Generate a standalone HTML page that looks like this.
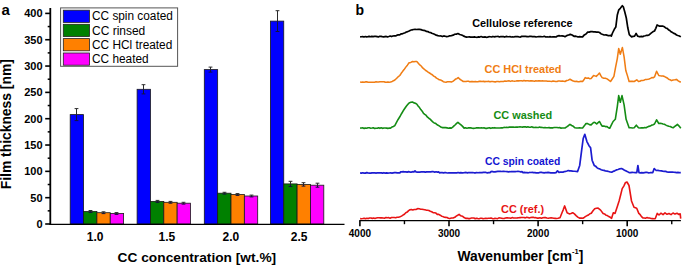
<!DOCTYPE html>
<html><head><meta charset="utf-8"><style>
html,body{margin:0;padding:0;background:#fff;}
body{width:685px;height:266px;overflow:hidden;}
svg{display:block;}
text{font-family:"Liberation Sans",sans-serif;}
.b{font-weight:bold;}
.r{font-weight:normal;}
</style></head><body>
<svg width="685" height="266" viewBox="0 0 685 266">
<rect width="685" height="266" fill="#fff"/>
<rect x="70.20" y="114.60" width="13.35" height="109.40" fill="#0000ff" stroke="#1a1a1a" stroke-width="0.8"/>
<rect x="83.55" y="211.50" width="13.35" height="12.50" fill="#008000" stroke="#1a1a1a" stroke-width="0.8"/>
<rect x="96.90" y="212.70" width="13.35" height="11.30" fill="#ff8000" stroke="#1a1a1a" stroke-width="0.8"/>
<rect x="110.25" y="213.50" width="13.35" height="10.50" fill="#ff00ff" stroke="#1a1a1a" stroke-width="0.8"/>
<rect x="137.10" y="89.30" width="13.35" height="134.70" fill="#0000ff" stroke="#1a1a1a" stroke-width="0.8"/>
<rect x="150.45" y="201.40" width="13.35" height="22.60" fill="#008000" stroke="#1a1a1a" stroke-width="0.8"/>
<rect x="163.80" y="202.30" width="13.35" height="21.70" fill="#ff8000" stroke="#1a1a1a" stroke-width="0.8"/>
<rect x="177.15" y="203.20" width="13.35" height="20.80" fill="#ff00ff" stroke="#1a1a1a" stroke-width="0.8"/>
<rect x="204.30" y="69.60" width="13.35" height="154.40" fill="#0000ff" stroke="#1a1a1a" stroke-width="0.8"/>
<rect x="217.65" y="193.20" width="13.35" height="30.80" fill="#008000" stroke="#1a1a1a" stroke-width="0.8"/>
<rect x="231.00" y="194.50" width="13.35" height="29.50" fill="#ff8000" stroke="#1a1a1a" stroke-width="0.8"/>
<rect x="244.35" y="196.00" width="13.35" height="28.00" fill="#ff00ff" stroke="#1a1a1a" stroke-width="0.8"/>
<rect x="270.40" y="21.10" width="13.35" height="202.90" fill="#0000ff" stroke="#1a1a1a" stroke-width="0.8"/>
<rect x="283.75" y="183.90" width="13.35" height="40.10" fill="#008000" stroke="#1a1a1a" stroke-width="0.8"/>
<rect x="297.10" y="184.40" width="13.35" height="39.60" fill="#ff8000" stroke="#1a1a1a" stroke-width="0.8"/>
<rect x="310.45" y="185.20" width="13.35" height="38.80" fill="#ff00ff" stroke="#1a1a1a" stroke-width="0.8"/>
<path d="M76.50 108.60V114.60M74.60 108.60H78.40" stroke="#2a2a2a" stroke-width="1" fill="none"/>
<path d="M76.50 114.60V120.60M74.60 120.60H78.40" stroke="#14143c" stroke-width="1" fill="none"/>
<path d="M90.50 210.50V211.50M88.60 210.50H92.40" stroke="#2a2a2a" stroke-width="1" fill="none"/>
<path d="M90.50 211.50V212.50M88.60 212.50H92.40" stroke="#14143c" stroke-width="1" fill="none"/>
<path d="M103.50 211.80V212.70M101.60 211.80H105.40" stroke="#2a2a2a" stroke-width="1" fill="none"/>
<path d="M103.50 212.70V213.60M101.60 213.60H105.40" stroke="#14143c" stroke-width="1" fill="none"/>
<path d="M116.50 212.60V213.50M114.60 212.60H118.40" stroke="#2a2a2a" stroke-width="1" fill="none"/>
<path d="M116.50 213.50V214.40M114.60 214.40H118.40" stroke="#14143c" stroke-width="1" fill="none"/>
<path d="M143.50 84.70V89.30M141.60 84.70H145.40" stroke="#2a2a2a" stroke-width="1" fill="none"/>
<path d="M143.50 89.30V93.90M141.60 93.90H145.40" stroke="#14143c" stroke-width="1" fill="none"/>
<path d="M157.50 200.40V201.40M155.60 200.40H159.40" stroke="#2a2a2a" stroke-width="1" fill="none"/>
<path d="M157.50 201.40V202.40M155.60 202.40H159.40" stroke="#14143c" stroke-width="1" fill="none"/>
<path d="M170.50 201.40V202.30M168.60 201.40H172.40" stroke="#2a2a2a" stroke-width="1" fill="none"/>
<path d="M170.50 202.30V203.20M168.60 203.20H172.40" stroke="#14143c" stroke-width="1" fill="none"/>
<path d="M183.50 202.30V203.20M181.60 202.30H185.40" stroke="#2a2a2a" stroke-width="1" fill="none"/>
<path d="M183.50 203.20V204.10M181.60 204.10H185.40" stroke="#14143c" stroke-width="1" fill="none"/>
<path d="M210.50 67.10V69.60M208.60 67.10H212.40" stroke="#2a2a2a" stroke-width="1" fill="none"/>
<path d="M210.50 69.60V72.10M208.60 72.10H212.40" stroke="#14143c" stroke-width="1" fill="none"/>
<path d="M224.50 192.30V193.20M222.60 192.30H226.40" stroke="#2a2a2a" stroke-width="1" fill="none"/>
<path d="M224.50 193.20V194.10M222.60 194.10H226.40" stroke="#14143c" stroke-width="1" fill="none"/>
<path d="M237.50 193.60V194.50M235.60 193.60H239.40" stroke="#2a2a2a" stroke-width="1" fill="none"/>
<path d="M237.50 194.50V195.40M235.60 195.40H239.40" stroke="#14143c" stroke-width="1" fill="none"/>
<path d="M251.50 195.10V196.00M249.60 195.10H253.40" stroke="#2a2a2a" stroke-width="1" fill="none"/>
<path d="M251.50 196.00V196.90M249.60 196.90H253.40" stroke="#14143c" stroke-width="1" fill="none"/>
<path d="M277.50 10.70V21.10M275.60 10.70H279.40" stroke="#2a2a2a" stroke-width="1" fill="none"/>
<path d="M277.50 21.10V31.50M275.60 31.50H279.40" stroke="#14143c" stroke-width="1" fill="none"/>
<path d="M290.50 181.30V183.90M288.60 181.30H292.40" stroke="#2a2a2a" stroke-width="1" fill="none"/>
<path d="M290.50 183.90V186.50M288.60 186.50H292.40" stroke="#14143c" stroke-width="1" fill="none"/>
<path d="M303.50 182.70V184.40M301.60 182.70H305.40" stroke="#2a2a2a" stroke-width="1" fill="none"/>
<path d="M303.50 184.40V186.10M301.60 186.10H305.40" stroke="#14143c" stroke-width="1" fill="none"/>
<path d="M317.50 183.20V185.20M315.60 183.20H319.40" stroke="#2a2a2a" stroke-width="1" fill="none"/>
<path d="M317.50 185.20V187.20M315.60 187.20H319.40" stroke="#14143c" stroke-width="1" fill="none"/>
<path d="M50.3 8V224.9" stroke="#000" stroke-width="1.8" fill="none"/>
<path d="M49.5 224.3H344.5" stroke="#000" stroke-width="1.2" fill="none"/>
<path d="M45.2 224.00H50" stroke="#000" stroke-width="1.6"/>
<text x="42.6" y="227.95" text-anchor="end" class="b" font-size="11">0</text>
<path d="M45.2 197.68H50" stroke="#000" stroke-width="1.6"/>
<text x="42.6" y="201.62" text-anchor="end" class="b" font-size="11">50</text>
<path d="M45.2 171.35H50" stroke="#000" stroke-width="1.6"/>
<text x="42.6" y="175.30" text-anchor="end" class="b" font-size="11">100</text>
<path d="M45.2 145.03H50" stroke="#000" stroke-width="1.6"/>
<text x="42.6" y="148.97" text-anchor="end" class="b" font-size="11">150</text>
<path d="M45.2 118.70H50" stroke="#000" stroke-width="1.6"/>
<text x="42.6" y="122.65" text-anchor="end" class="b" font-size="11">200</text>
<path d="M45.2 92.38H50" stroke="#000" stroke-width="1.6"/>
<text x="42.6" y="96.33" text-anchor="end" class="b" font-size="11">250</text>
<path d="M45.2 66.05H50" stroke="#000" stroke-width="1.6"/>
<text x="42.6" y="70.00" text-anchor="end" class="b" font-size="11">300</text>
<path d="M45.2 39.73H50" stroke="#000" stroke-width="1.6"/>
<text x="42.6" y="43.68" text-anchor="end" class="b" font-size="11">350</text>
<path d="M45.2 13.40H50" stroke="#000" stroke-width="1.6"/>
<text x="42.6" y="17.35" text-anchor="end" class="b" font-size="11">400</text>
<path d="M47.7 210.84H50" stroke="#000" stroke-width="1.5"/>
<path d="M47.7 184.51H50" stroke="#000" stroke-width="1.5"/>
<path d="M47.7 158.19H50" stroke="#000" stroke-width="1.5"/>
<path d="M47.7 131.86H50" stroke="#000" stroke-width="1.5"/>
<path d="M47.7 105.54H50" stroke="#000" stroke-width="1.5"/>
<path d="M47.7 79.21H50" stroke="#000" stroke-width="1.5"/>
<path d="M47.7 52.89H50" stroke="#000" stroke-width="1.5"/>
<path d="M47.7 26.56H50" stroke="#000" stroke-width="1.5"/>
<text x="95.1" y="240.6" text-anchor="middle" class="b" font-size="12">1.0</text>
<text x="166.8" y="240.6" text-anchor="middle" class="b" font-size="12">1.5</text>
<text x="230.8" y="240.6" text-anchor="middle" class="b" font-size="12">2.0</text>
<text x="299.2" y="240.6" text-anchor="middle" class="b" font-size="12">2.5</text>
<text x="117.6" y="262.2" class="b" font-size="13.6" textLength="158.6" lengthAdjust="spacingAndGlyphs">CC concentration [wt.%]</text>
<text transform="translate(11.0,189.2) rotate(-90)" x="0" y="0" class="b" font-size="14" textLength="130.0" lengthAdjust="spacingAndGlyphs">Film thickness [nm]</text>
<text x="1.6" y="14.8" class="b" font-size="15">a</text>
<rect x="60.6" y="7.9" width="117" height="58.4" fill="#fff" stroke="#555" stroke-width="1"/>
<rect x="63.3" y="10.20" width="26.2" height="12.2" fill="#0000ff" stroke="#222" stroke-width="0.8"/>
<text x="92.0" y="19.80" class="r" font-size="12" textLength="80.9" lengthAdjust="spacingAndGlyphs">CC spin coated</text>
<rect x="63.3" y="24.30" width="26.2" height="12.2" fill="#008000" stroke="#222" stroke-width="0.8"/>
<text x="92.0" y="34.80" class="r" font-size="12" textLength="53.3" lengthAdjust="spacingAndGlyphs">CC rinsed</text>
<rect x="63.3" y="38.60" width="26.2" height="12.2" fill="#ff8000" stroke="#222" stroke-width="0.8"/>
<text x="92.0" y="49.20" class="r" font-size="12" textLength="80.3" lengthAdjust="spacingAndGlyphs">CC HCl treated</text>
<rect x="63.3" y="53.00" width="26.2" height="12.2" fill="#ff00ff" stroke="#222" stroke-width="0.8"/>
<text x="92.0" y="63.40" class="r" font-size="12" textLength="56.6" lengthAdjust="spacingAndGlyphs">CC heated</text>
<path d="M359.3 220.6H680.9" stroke="#000" stroke-width="1.3" fill="none"/>
<path d="M359.90 220.6V226.3" stroke="#000" stroke-width="1.6"/>
<text x="359.90" y="237.3" text-anchor="middle" class="b" font-size="10">4000</text>
<path d="M449.00 220.6V226.3" stroke="#000" stroke-width="1.6"/>
<text x="449.00" y="237.3" text-anchor="middle" class="b" font-size="10">3000</text>
<path d="M538.10 220.6V226.3" stroke="#000" stroke-width="1.6"/>
<text x="538.10" y="237.3" text-anchor="middle" class="b" font-size="10">2000</text>
<path d="M627.20 220.6V226.3" stroke="#000" stroke-width="1.6"/>
<text x="627.20" y="237.3" text-anchor="middle" class="b" font-size="10">1000</text>
<path d="M404.45 220.6V224.2" stroke="#000" stroke-width="1.4"/>
<path d="M493.55 220.6V224.2" stroke="#000" stroke-width="1.4"/>
<path d="M582.65 220.6V224.2" stroke="#000" stroke-width="1.4"/>
<path d="M671.75 220.6V224.2" stroke="#000" stroke-width="1.4"/>
<text x="457.5" y="260.6" class="b" font-size="13.8">Wavenumber [cm<tspan font-size="7.5" dy="-6.8">-1</tspan><tspan dy="6.8">]</tspan></text>
<text x="355.4" y="15.3" class="b" font-size="14">b</text>
<polyline points="360.1,36.90 361.4,36.74 362.7,36.58 364.0,36.97 365.3,36.49 366.6,36.84 367.9,36.68 369.2,36.42 370.5,36.76 371.8,36.37 373.1,36.67 374.5,36.36 375.8,36.35 377.1,36.60 378.4,36.91 379.7,36.33 381.0,36.39 382.3,36.69 383.6,36.93 384.9,36.62 386.2,36.45 387.5,36.90 388.8,36.50 390.2,36.02 391.5,36.55 392.9,35.97 394.2,35.74 395.6,35.90 397.0,35.17 398.3,34.91 399.7,34.89 401.0,33.96 402.4,33.80 403.7,33.31 405.1,32.79 406.4,32.02 407.8,31.60 409.1,31.00 410.6,30.23 412.1,29.80 413.6,29.49 415.1,29.30 416.6,29.52 418.1,29.39 419.5,29.38 421.0,29.60 422.4,30.07 423.7,30.36 425.1,30.64 426.4,31.44 427.8,31.60 429.1,32.30 430.5,32.48 431.8,33.28 433.2,33.78 434.5,34.30 436.2,35.17 437.9,35.62 439.6,36.00 441.0,35.91 442.4,36.55 443.8,35.94 445.2,36.27 446.6,36.62 448.0,36.50 449.7,35.79 451.4,35.62 453.1,35.20 454.7,34.26 456.3,34.20 457.9,33.50 459.8,34.46 461.6,35.00 463.3,35.86 465.0,36.60 466.5,37.10 468.0,37.00 469.3,36.84 470.6,37.14 471.9,37.05 473.2,37.03 474.5,36.93 475.8,37.23 477.2,37.30 478.5,36.92 479.8,37.06 481.1,36.57 482.4,37.08 483.7,37.03 485.0,36.90 486.3,37.28 487.6,37.14 488.9,36.70 490.3,36.77 491.6,36.98 492.9,36.45 494.2,36.80 495.5,36.55 496.8,36.50 498.2,36.44 499.5,37.00 500.8,36.48 502.1,36.56 503.4,36.67 504.7,37.04 506.1,36.40 507.4,36.68 508.7,36.75 510.0,36.70 511.3,37.00 512.6,36.95 513.9,36.98 515.2,36.51 516.5,36.61 517.8,36.56 519.1,36.98 520.4,37.03 521.7,36.38 523.0,36.40 524.3,36.44 525.7,36.43 527.0,36.63 528.3,36.71 529.6,36.44 530.9,36.23 532.2,36.56 533.5,36.52 534.8,36.67 536.1,36.98 537.4,36.76 538.7,36.62 540.0,36.60 541.4,36.71 542.9,36.77 544.3,36.29 545.7,36.98 547.1,36.90 548.6,36.99 550.0,36.70 551.5,37.01 553.0,36.76 554.5,36.84 556.0,37.00 557.5,35.98 559.0,35.60 560.5,35.98 562.0,35.80 563.5,36.08 565.0,36.70 566.3,35.89 567.6,35.28 569.0,34.85 570.3,34.40 572.1,34.99 574.0,36.30 575.3,36.13 576.7,36.49 578.0,37.00 579.5,36.65 581.1,36.82 582.6,36.90 584.3,34.92 586.0,34.00 587.7,32.10 589.2,32.12 590.7,31.67 592.1,31.68 593.6,31.80 595.1,31.85 596.5,32.04 598.0,32.02 599.5,32.50 600.9,33.68 602.3,34.30 604.1,34.99 606.0,34.90 607.5,35.32 609.0,35.80 610.5,35.30 611.3,36.10 612.5,33.00 614.3,29.30 615.8,27.10 617.3,15.00 618.8,9.80 620.3,8.30 622.3,5.70 623.3,6.80 624.8,12.00 626.3,18.00 627.8,27.80 629.3,34.60 631.6,36.80 633.1,36.44 634.6,36.10 636.1,33.40 637.6,36.10 639.8,36.80 641.2,36.42 642.7,36.70 644.0,35.98 645.4,35.77 646.7,35.31 648.1,35.36 649.4,34.70 651.1,33.20 652.8,31.85 654.5,31.00 655.8,28.36 657.1,25.00 659.6,26.20 661.3,26.22 663.0,26.20 664.4,26.78 665.7,27.95 667.1,28.40 668.4,29.66 669.8,30.50 671.1,31.78 672.5,32.59 673.8,33.36 675.2,33.91 676.5,35.00 677.9,35.53 679.4,36.00 680.8,36.90" fill="none" stroke="#000" stroke-width="1.7" stroke-linejoin="round"/>
<polyline points="360.1,82.00 361.4,82.19 362.7,82.02 364.1,82.20 365.4,81.88 366.7,81.81 368.0,82.22 369.4,82.34 370.7,82.25 372.0,82.21 373.3,82.22 374.6,82.17 376.0,81.81 377.3,82.01 378.6,81.90 379.9,81.67 381.2,81.67 382.6,81.85 383.9,81.83 385.2,82.13 386.5,82.32 387.9,81.96 389.2,82.31 390.5,82.00 392.2,81.44 393.9,80.52 395.6,79.30 397.0,77.94 398.4,76.57 399.8,75.50 401.2,73.34 402.7,71.35 404.1,69.60 405.8,67.13 407.4,65.15 409.1,62.80 410.8,62.43 412.5,61.50 413.9,61.74 415.4,61.49 416.8,61.50 418.3,63.21 419.8,64.91 421.2,66.01 422.7,67.90 424.1,69.03 425.4,70.23 426.8,71.16 428.1,72.16 429.5,73.00 430.9,73.97 432.3,74.74 433.7,76.15 435.1,76.82 436.5,78.13 437.9,78.90 439.3,79.85 440.6,80.07 442.0,80.69 443.3,81.69 444.7,82.00 446.0,82.16 447.4,81.77 448.7,81.74 450.1,81.76 451.4,82.00 452.8,81.40 454.1,80.45 455.5,79.11 456.8,78.71 458.2,77.60 459.9,79.24 461.6,80.31 463.3,81.50 464.6,81.40 466.0,81.54 467.3,81.25 468.6,81.18 470.0,81.85 471.3,81.63 472.6,81.55 474.0,81.83 475.3,81.49 476.6,81.80 478.0,81.77 479.3,81.34 480.6,81.38 482.0,81.41 483.3,81.38 484.7,81.62 486.0,81.40 487.3,81.51 488.7,81.31 490.0,81.86 491.3,81.48 492.7,81.56 494.0,81.65 495.3,81.88 496.7,81.54 498.0,81.60 499.4,81.84 500.8,81.50 502.1,81.47 503.5,81.42 504.9,81.01 506.2,81.26 507.6,81.03 509.0,80.85 510.4,81.36 511.8,80.87 513.1,81.03 514.5,81.16 515.9,80.99 517.2,80.78 518.6,80.86 520.0,80.80 521.3,80.84 522.6,81.01 523.9,80.54 525.3,80.86 526.6,80.65 527.9,80.68 529.2,81.03 530.5,80.85 531.8,80.89 533.2,81.03 534.5,81.15 535.8,80.82 537.1,80.95 538.4,80.88 539.7,80.89 541.1,81.02 542.4,80.86 543.7,80.92 545.0,80.90 546.3,80.92 547.7,81.29 549.0,81.16 550.3,81.32 551.7,81.41 553.0,80.97 554.3,81.22 555.7,81.53 557.0,81.50 558.3,81.05 559.7,81.08 561.0,81.34 562.3,81.12 563.7,81.28 565.0,81.50 566.7,80.47 568.3,80.15 570.0,79.30 571.7,80.23 573.3,81.04 575.0,81.50 576.5,81.26 578.0,81.65 579.6,81.61 581.1,81.25 582.6,81.50 583.9,79.82 585.2,77.60 586.7,78.18 588.2,77.90 589.6,78.67 591.1,78.60 593.6,75.50 594.9,75.88 596.2,76.40 597.9,74.69 599.5,73.00 600.8,75.64 602.1,77.60 603.8,78.27 605.4,78.23 607.1,78.90 608.8,80.15 610.5,81.50 612.2,78.96 613.9,76.40 615.6,67.10 617.3,58.60 618.7,48.50 620.3,54.30 622.4,47.60 624.1,56.90 625.8,70.50 627.5,75.89 629.1,81.50 630.8,81.29 632.5,81.37 634.2,81.50 636.8,79.80 638.5,81.50 639.8,81.34 641.2,80.54 642.5,80.59 643.8,80.20 645.1,79.59 646.5,79.50 647.8,79.30 649.1,78.91 650.5,78.35 651.8,77.56 653.2,77.72 654.5,76.90 656.6,71.30 658.8,75.50 660.2,75.84 661.6,76.10 663.0,75.90 664.4,76.41 665.8,77.30 667.2,77.93 668.6,79.23 670.0,79.66 671.4,80.60 673.1,79.94 674.8,79.75 676.5,79.40 677.9,80.65 679.4,81.56 680.8,82.30" fill="none" stroke="#f07d14" stroke-width="1.55" stroke-linejoin="round"/>
<polyline points="360.1,128.10 361.4,127.93 362.7,127.85 364.1,128.39 365.4,128.15 366.7,128.24 368.0,127.81 369.4,127.79 370.7,128.23 372.0,128.05 373.3,127.80 374.6,128.41 376.0,128.19 377.3,128.31 378.6,127.81 379.9,128.35 381.2,127.80 382.6,128.35 383.9,128.07 385.2,127.99 386.5,128.14 387.9,128.40 389.2,127.94 390.5,128.10 391.9,127.01 393.4,126.45 394.8,125.60 396.5,122.48 398.1,119.46 399.8,116.80 401.5,113.73 403.2,110.82 404.9,108.30 406.3,106.29 407.7,104.57 409.1,102.90 410.8,102.31 412.5,102.00 413.9,102.88 415.4,103.25 416.8,104.10 418.1,105.96 419.5,107.59 420.8,109.57 422.2,111.20 423.5,113.40 424.8,114.43 426.2,115.46 427.5,117.16 428.8,118.24 430.1,119.18 431.5,120.58 432.8,121.80 434.2,123.02 435.6,123.36 437.1,124.77 438.5,125.42 439.9,126.38 441.3,127.30 442.7,127.65 444.2,127.45 445.6,127.65 447.1,127.89 448.5,128.21 450.0,127.88 451.4,128.10 452.7,127.17 454.0,125.92 455.3,124.72 456.6,123.39 457.9,122.30 459.4,123.64 461.0,124.89 462.6,126.39 464.1,128.10 465.4,127.80 466.8,128.26 468.1,127.92 469.4,127.85 470.7,127.79 472.1,128.32 473.4,128.33 474.7,128.19 476.1,127.91 477.4,127.88 478.7,127.91 480.1,128.03 481.4,127.81 482.7,128.01 484.0,127.88 485.4,128.36 486.7,128.37 488.0,128.07 489.4,127.85 490.7,128.35 492.0,127.89 493.4,127.92 494.7,127.67 496.0,127.93 497.3,127.99 498.7,128.01 500.0,128.00 501.3,127.71 502.7,127.84 504.0,127.41 505.3,127.51 506.7,127.31 508.0,127.45 509.3,127.12 510.7,127.03 512.0,127.14 513.3,127.01 514.7,127.18 516.0,127.06 517.3,127.14 518.7,126.99 520.0,126.80 521.3,126.99 522.6,127.14 523.9,126.83 525.3,126.83 526.6,127.32 527.9,126.78 529.2,127.21 530.5,127.19 531.8,126.81 533.2,127.40 534.5,127.48 535.8,127.33 537.1,127.44 538.4,127.53 539.7,127.10 541.1,127.41 542.4,127.43 543.7,127.70 545.0,127.50 546.3,127.75 547.7,127.80 549.0,127.66 550.3,127.91 551.7,127.79 553.0,127.84 554.3,127.54 555.7,127.44 557.0,127.54 558.3,127.74 559.7,127.59 561.0,128.14 562.3,127.97 563.7,128.06 565.0,128.00 566.7,126.89 568.3,125.73 570.0,124.40 571.7,125.53 573.3,126.32 575.0,127.80 576.5,128.05 578.0,128.05 579.6,127.92 581.1,127.98 582.6,128.00 584.3,125.86 586.0,123.50 587.7,123.66 589.4,124.60 591.1,124.90 592.5,123.43 594.0,122.30 595.4,122.85 596.7,124.00 598.1,122.59 599.5,121.50 600.8,123.96 602.1,126.10 603.8,126.06 605.4,126.60 607.1,126.60 608.4,127.78 609.7,128.30 611.4,124.90 613.1,121.50 615.3,119.30 617.3,106.60 618.7,95.60 620.3,102.30 622.0,95.60 624.1,104.90 626.1,119.30 627.6,123.47 629.1,127.80 630.8,127.79 632.5,127.93 634.2,127.80 636.3,125.20 638.5,127.80 640.0,127.99 641.5,127.88 643.1,127.90 644.6,127.50 646.1,127.80 647.5,126.92 648.9,126.36 650.3,126.07 651.7,125.13 653.1,124.68 654.5,124.00 656.6,119.80 658.8,123.50 660.2,123.29 661.6,123.46 663.0,123.90 664.4,124.30 665.9,125.13 667.3,125.71 668.8,126.25 670.2,126.54 671.7,127.25 673.1,127.80 674.5,126.64 676.0,125.51 677.4,124.40 679.1,126.08 680.8,128.30" fill="none" stroke="#148c14" stroke-width="1.6" stroke-linejoin="round"/>
<polyline points="360.1,172.90 361.4,173.10 362.7,172.75 364.1,173.14 365.4,173.12 366.7,172.66 368.0,172.88 369.4,173.06 370.7,173.13 372.0,172.87 373.3,172.78 374.7,172.75 376.0,173.12 377.3,172.76 378.6,172.94 380.0,172.72 381.3,172.91 382.6,173.13 383.9,172.72 385.2,173.06 386.6,172.90 387.9,173.09 389.2,173.00 390.5,172.77 391.9,173.10 393.2,172.89 394.5,172.66 395.8,172.65 397.2,172.90 398.5,172.88 399.8,172.90 400.5,171.90 401.9,171.80 403.2,171.72 404.6,171.82 405.9,171.81 407.2,172.07 408.6,171.65 409.9,172.03 411.3,172.07 412.6,171.71 414.0,171.90 415.0,170.90 416.0,171.90 417.3,172.11 418.7,172.01 420.0,172.10 421.4,171.79 422.7,171.84 424.0,171.85 425.4,172.15 426.7,171.94 428.1,171.83 429.4,171.86 430.8,171.79 432.1,171.67 433.4,171.70 434.8,172.07 436.1,171.79 437.5,172.12 438.8,171.90 439.5,172.80 440.8,172.67 442.2,172.67 443.5,172.79 444.8,172.62 446.1,172.71 447.5,173.00 448.8,172.96 450.1,172.91 451.5,172.82 452.8,172.95 454.1,172.96 455.4,172.76 456.8,172.84 458.1,172.50 459.4,172.84 460.8,172.69 462.1,172.84 463.4,172.78 464.8,172.59 466.1,172.47 467.4,172.90 468.7,172.50 470.1,172.67 471.4,172.60 472.7,172.57 474.1,172.78 475.4,172.90 476.7,172.53 478.0,172.73 479.4,172.54 480.7,172.67 482.0,172.58 483.4,172.46 484.7,172.45 486.0,172.47 487.3,172.81 488.7,172.60 490.0,172.60 491.0,171.60 492.3,171.46 493.7,171.80 495.0,171.85 496.4,171.57 497.7,171.42 499.1,171.45 500.4,171.40 501.8,171.52 503.1,171.40 504.5,171.47 505.8,171.48 507.2,171.63 508.5,171.79 509.9,171.72 511.2,171.56 512.6,171.56 513.9,171.61 515.3,171.54 516.6,171.52 518.0,171.38 519.3,171.49 520.7,171.83 522.0,171.60 523.0,172.60 524.3,172.41 525.6,172.60 527.0,172.66 528.3,172.78 529.6,172.46 530.9,172.49 532.2,172.47 533.6,172.55 534.9,172.57 536.2,172.83 537.5,172.77 538.8,172.79 540.2,172.36 541.5,172.37 542.8,172.70 544.1,172.80 545.4,172.59 546.8,172.64 548.1,172.35 549.4,172.55 550.7,172.81 552.0,172.76 553.4,172.78 554.7,172.84 556.0,172.60 557.5,170.80 559.0,172.40 560.3,172.21 561.7,172.07 563.0,172.20 564.3,171.60 565.6,171.36 567.0,171.02 568.3,170.50 569.6,170.88 571.0,170.93 572.3,171.05 573.6,171.26 574.9,171.26 576.3,171.47 577.6,171.60 579.7,165.40 581.7,149.80 583.2,138.50 584.8,134.30 586.9,141.60 589.0,145.70 590.6,147.80 592.1,160.20 594.2,165.40 595.6,166.20 596.9,167.61 598.3,168.50 599.7,168.87 601.2,169.71 602.6,170.07 604.1,170.40 605.5,171.00 607.1,171.11 608.6,171.48 610.2,171.97 611.8,172.20 613.1,171.40 614.7,170.87 616.4,169.94 618.0,169.50 619.8,168.79 621.5,168.50 623.0,169.33 624.5,170.18 626.1,170.90 627.6,171.64 629.1,172.60 630.6,172.65 632.2,172.36 633.7,172.50 635.3,172.58 636.8,172.60 637.9,165.50 639.0,172.60 640.4,172.83 641.8,172.67 643.1,172.79 644.5,172.59 645.9,172.47 647.3,172.47 648.7,172.83 650.0,172.70 651.4,172.50 652.8,172.60 654.2,168.50 656.2,170.50 657.9,170.39 659.6,170.77 661.3,170.90 662.7,171.20 664.1,171.29 665.5,171.43 667.0,171.85 668.4,172.20 669.8,172.20 671.2,172.11 672.5,172.07 673.9,172.27 675.3,172.36 676.7,172.54 678.0,172.35 679.4,172.70 680.8,172.60" fill="none" stroke="#1c1cd0" stroke-width="1.7" stroke-linejoin="round"/>
<polyline points="360.1,218.60 361.5,218.74 362.8,218.51 364.2,218.22 365.5,218.79 366.9,218.22 368.2,218.58 369.6,218.06 370.9,218.00 372.3,218.39 373.6,217.97 375.0,218.45 376.3,218.04 377.7,217.74 379.0,217.73 380.4,217.90 381.8,217.82 383.2,218.01 384.5,218.23 385.9,217.58 387.3,217.77 388.7,217.62 390.1,218.22 391.5,217.54 392.8,217.46 394.2,217.46 395.6,217.80 397.1,217.29 398.6,217.27 400.0,216.83 401.5,216.10 402.9,215.15 404.4,214.23 405.8,212.70 407.2,212.08 408.6,210.63 410.0,209.80 411.4,209.45 412.8,209.95 414.2,209.50 415.9,209.46 417.6,208.66 419.3,208.80 420.7,209.19 422.0,209.22 423.4,209.48 424.7,209.71 426.1,210.10 427.5,210.27 428.9,210.57 430.3,211.22 431.7,211.71 433.1,212.63 434.5,212.70 435.9,213.05 437.3,214.37 438.8,214.42 440.2,215.19 441.6,216.21 443.0,216.60 444.4,217.26 445.7,217.35 447.1,217.44 448.4,218.18 449.8,218.60 451.5,218.06 453.1,218.07 454.8,217.30 456.2,216.09 457.7,215.26 459.1,214.40 460.8,215.78 462.4,216.16 464.1,217.60 466.0,218.40 467.3,218.33 468.6,218.65 470.0,218.61 471.3,218.03 472.6,218.03 473.9,218.05 475.2,218.74 476.5,218.21 477.9,218.60 479.2,218.72 480.5,218.27 481.8,218.22 483.1,218.77 484.5,218.49 485.8,218.21 487.1,218.57 488.4,218.25 489.7,218.22 491.0,218.00 492.4,218.60 493.7,218.73 495.0,218.40 496.3,218.47 497.6,218.67 498.9,217.89 500.3,218.02 501.6,218.17 502.9,218.51 504.2,218.47 505.5,217.97 506.8,217.82 508.2,217.92 509.5,217.93 510.8,218.24 512.1,217.60 513.4,218.05 514.7,217.96 516.1,217.98 517.4,217.90 518.7,217.73 520.0,217.60 521.3,217.48 522.7,217.48 524.0,217.53 525.3,217.88 526.7,217.33 528.0,217.44 529.3,217.90 530.7,217.50 532.0,217.37 533.3,217.36 534.7,217.79 536.0,217.62 537.3,218.16 538.7,218.09 540.0,217.80 541.4,218.23 542.8,217.69 544.2,217.58 545.5,217.63 546.9,217.99 548.3,218.20 549.7,218.03 551.1,217.90 552.5,218.08 553.8,218.28 555.2,218.36 556.6,218.46 558.0,218.30 560.0,217.80 562.0,212.70 563.3,209.58 564.6,205.90 567.1,212.70 569.3,213.90 571.0,213.43 572.7,212.70 574.4,213.85 576.1,215.60 577.8,217.12 579.5,218.10 581.1,218.04 582.8,218.30 584.2,217.45 585.7,216.40 587.1,215.60 588.5,214.99 589.9,213.76 591.3,213.20 593.0,210.80 594.7,208.80 596.4,208.25 598.1,208.10 600.6,210.10 603.1,213.50 604.5,213.92 606.0,215.21 607.4,215.60 608.8,216.56 610.2,217.26 611.6,218.30 613.3,212.70 615.0,213.50 617.5,205.90 619.1,201.00 620.7,194.72 622.2,188.60 623.8,186.09 625.3,182.80 627.0,182.00 629.0,185.50 631.5,201.00 634.0,207.20 635.4,207.71 636.7,208.20 638.8,213.40 640.2,214.69 641.5,216.65 642.9,217.90 644.2,218.02 645.5,218.29 646.8,217.58 648.1,217.90 649.5,218.02 651.0,218.44 652.4,218.59 653.9,218.79 655.3,218.60 657.2,213.40 659.0,215.00 661.0,213.20 663.0,214.60 665.0,212.90 667.0,214.30 669.0,213.50 671.0,214.60 673.0,213.00 675.0,214.10 677.0,213.30 679.0,214.50 680.2,213.80 680.7,218.60" fill="none" stroke="#e81414" stroke-width="1.6" stroke-linejoin="round"/>
<text x="472.2" y="26.7" class="b" font-size="11.6" textLength="100.4" lengthAdjust="spacingAndGlyphs">Cellulose reference</text>
<text x="484.5" y="73" class="b" font-size="11" fill="#f07d14" textLength="77" lengthAdjust="spacingAndGlyphs">CC HCl treated</text>
<text x="493.5" y="119.3" class="b" font-size="11" fill="#148c14" textLength="58.7" lengthAdjust="spacingAndGlyphs">CC washed</text>
<text x="485" y="164.9" class="b" font-size="10.4" fill="#1414d2" textLength="75.2" lengthAdjust="spacingAndGlyphs">CC spin coated</text>
<text x="501.1" y="212.7" class="b" font-size="11" fill="#e81414" textLength="43" lengthAdjust="spacingAndGlyphs">CC (ref.)</text>
</svg>
</body></html>
